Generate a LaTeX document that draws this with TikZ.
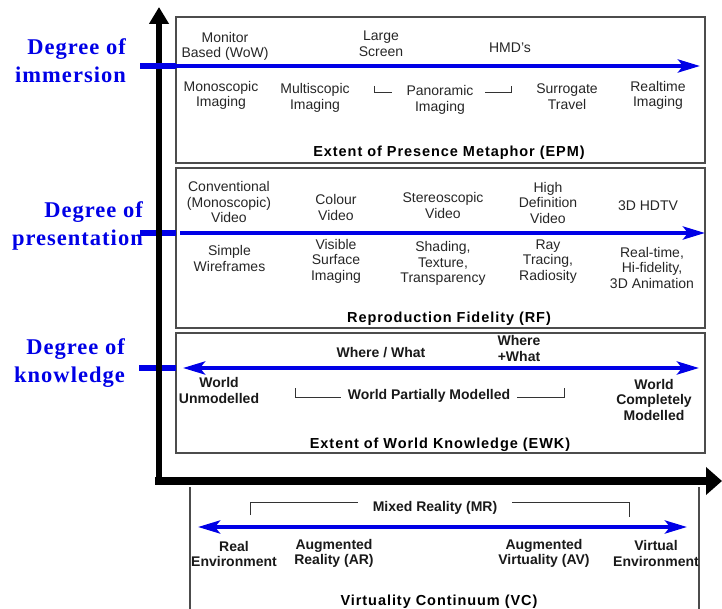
\documentclass[tikz,border=0pt]{standalone}
\usepackage{fontspec}
\setmainfont{Liberation Sans}
\newfontfamily\degfont[LetterSpace=4.5]{Liberation Serif}
\newfontfamily\ttlfont[LetterSpace=6.5]{Liberation Sans}
\usetikzlibrary{arrows.meta}
\definecolor{axisblue}{RGB}{0,0,230}
\tikzset{
  txt/.style={font=\fontsize{14}{15.5}\selectfont, align=center, inner sep=0pt, text=black!85},
  btxt/.style={font=\fontsize{14}{15.5}\selectfont\bfseries, align=center, inner sep=0pt, text=black!90},
  ttl/.style={font=\ttlfont\bfseries\fontsize{14.5}{17}\selectfont, inner sep=0pt},
  deg/.style={font=\degfont\bfseries\fontsize{22.5}{28}\selectfont, text=axisblue, align=right, anchor=east, inner sep=0pt},
  panel/.style={draw=black!70, line width=1.2pt},
  stub/.style={draw=axisblue, line width=6pt},
  flow/.style={draw=axisblue, line width=4pt, -{Stealth[length=22pt,width=13pt,inset=5pt]}},
  dflow/.style={draw=axisblue, line width=4pt, {Stealth[length=22pt,width=13pt,inset=5pt]}-{Stealth[length=22pt,width=13pt,inset=5pt]}},
  brk/.style={draw=black!80, line width=1pt},
  axisv/.style={line width=6pt, -{Triangle[length=17pt,width=19pt]}},
  axish/.style={line width=8pt, -{Triangle[length=16pt,width=27pt]}},
}
\begin{document}
\begin{tikzpicture}[x=1pt,y=-1pt]
\useasboundingbox (0,0) rectangle (722,609);

% panels
\draw[panel] (176,17) rectangle (705,163);
\draw[panel] (176,168) rectangle (705,328);
\draw[panel] (176,333) rectangle (705,453);
\draw[panel] (190,487) -- (190,609);
\draw[panel] (699,487) -- (699,609);

% coordinates for the blue scales
\coordinate (s1a) at (140,66);  \coordinate (s1b) at (176,66);
\coordinate (f1a) at (176,66);  \coordinate (f1b) at (700,66);
\coordinate (s2a) at (140,233); \coordinate (s2b) at (176,233);
\coordinate (f2a) at (180,233); \coordinate (f2b) at (705,233);
\coordinate (s3a) at (139,368); \coordinate (s3b) at (176,368);
\coordinate (f3a) at (183,368); \coordinate (f3b) at (699,368);
\coordinate (f4a) at (198,527); \coordinate (f4b) at (687,527);

\draw[stub] (s2a) -- (s2b);
\draw[stub] (s3a) -- (s3b);

% main axes
\coordinate (origin) at (159,485);
\coordinate (ytop) at (159,7);
\coordinate (xorg) at (155,481);
\coordinate (xend) at (722,481);
\draw[axisv] (origin) -- (ytop);
\draw[axish] (xorg) -- (xend);

\draw[stub] (s1a) -- (s1b);
\draw[flow] (f1a) -- (f1b);
\draw[flow] (f2a) -- (f2b);
\draw[dflow] (f3a) -- (f3b);
\draw[dflow] (f4a) -- (f4b);

% side labels
\node[deg] (dimm) at (126,61) {Degree of\\immersion};
\node[deg] (dpre) at (143,226) {Degree of\\presentation};
\node[deg] (dkno) at (125,363.5) {Degree of\\knowledge};

% EPM panel
\node[txt] (mon) at (225,46.5) {Monitor\\Based (WoW)};
\node[txt] (lsc) at (381,44) {Large\\Screen};
\node[txt] (hmd) at (510,48) {HMD's};
\node[txt] (mono) at (221,95.5) {Monoscopic\\Imaging};
\node[txt] (mult) at (315,98) {Multiscopic\\Imaging};
\node[txt] (pano) at (440,100) {Panoramic\\Imaging};
\node[txt] (surr) at (567,96.5) {Surrogate\\Travel};
\node[txt] (real) at (658,95.5) {Realtime\\Imaging};
\draw[brk] (374,86) -- (374,93) -- (392,93);
\draw[brk] (485,93) -- (511,93) -- (511,86);
\node[ttl] (epm) at (449,152.5) {Extent of Presence Metaphor (EPM)};

% RF panel
\node[txt] (conv) at (229,202) {Conventional\\(Monoscopic)\\Video};
\node[txt] (colr) at (336,207.5) {Colour\\Video};
\node[txt] (ster) at (443,205.5) {Stereoscopic\\Video};
\node[txt] (hdv) at (548,202.5) {High\\Definition\\Video};
\node[txt] (hdtv) at (648,206) {3D HDTV};
\node[txt] (wire) at (229.5,258.5) {Simple\\Wireframes};
\node[txt] (visi) at (336,261) {Visible\\Surface\\Imaging};
\node[txt] (shad) at (443,263.5) {Shading,\\Texture,\\Transparency};
\node[txt] (ray) at (548,261.5) {Ray\\Tracing,\\Radiosity};
\node[txt] (rt) at (652,267.5) {Real-time,\\Hi-fidelity,\\3D Animation};
\node[ttl] (rf) at (449,318.5) {Reproduction Fidelity (RF)};

% EWK panel
\node[btxt] (ww) at (381,353) {Where / What};
\node[btxt] (wpw) at (519,348.5) {Where\\+What};
\node[btxt] (wum) at (219,390.5) {World\\Unmodelled};
\node[btxt] (wpm) at (429,396) {World Partially Modelled};
\node[btxt] (wcm) at (654,399.5) {World\\Completely\\Modelled};
\draw[brk] (295,388) -- (295,397) -- (341,397);
\draw[brk] (517,397) -- (564,397) -- (564,388);
\node[ttl] (ewk) at (440,444.5) {Extent of World Knowledge (EWK)};

% VC panel
\node[btxt] (mr) at (435,508) {Mixed Reality (MR)};
\draw[brk] (250,515) -- (250,502) -- (358,502);
\draw[brk] (512,502) -- (629,502) -- (629,517);
\node[btxt] (re) at (234,554) {Real\\Environment};
\node[btxt] (ar) at (334,553.5) {Augmented\\Reality (AR)};
\node[btxt] (av) at (544,553.5) {Augmented\\Virtuality (AV)};
\node[btxt] (ve) at (656,553.5) {Virtual\\Environment};
\node[ttl] (vc) at (439,602) {Virtuality Continuum (VC)};
\end{tikzpicture}
\end{document}
